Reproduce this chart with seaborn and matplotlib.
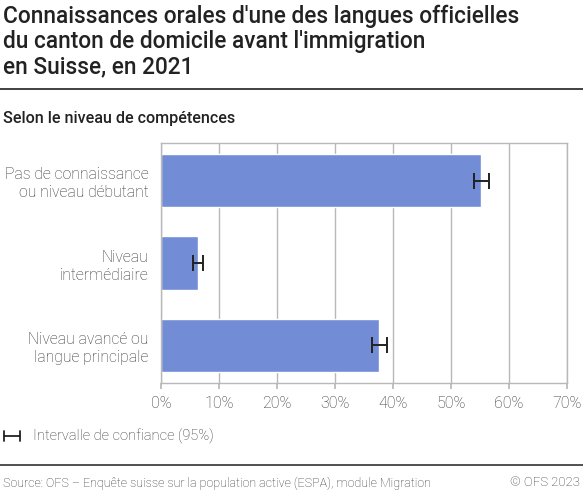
import pandas as pd
import seaborn as sns
import matplotlib.pyplot as plt
from matplotlib.lines import Line2D

categories = [
    "Pas de connaissance\nou niveau débutant",
    "Niveau\nintermédiaire",
    "Niveau avancé ou\nlangue principale",
]
values = [55.2, 6.4, 37.6]
ci_half = [1.3, 0.8, 1.3]
x_ticks = [0, 10, 20, 30, 40, 50, 60, 70]

df = pd.DataFrame({"niveau": categories, "part": values})

sns.set_theme(style="white")
plt.rcParams["font.family"] = ["Roboto", "DejaVu Sans"]

W, H = 583, 493
fig = plt.figure(figsize=(W / 100, H / 100), dpi=100)

# zone du graphique en pixels
left, right, top, bottom = 161, 567, 143, 383
ax = fig.add_axes([left / W, 1 - bottom / H, (right - left) / W, (bottom - top) / H])

sns.barplot(data=df, x="part", y="niveau", orient="h", color="#728cd6",
            saturation=1, width=0.65, errorbar=None, ax=ax, zorder=2)
ax.errorbar(values, range(len(values)), xerr=ci_half, fmt="none",
            ecolor="#222222", elinewidth=1.4, capsize=5.5, capthick=1.4, zorder=3)

ax.set_xlim(0, 70)
ax.set_xticks(x_ticks)
ax.set_xticklabels([f"{t}%" for t in x_ticks])
ax.set_xlabel("")
ax.set_ylabel("")
ax.grid(axis="x", color="#b8b8b8", linewidth=1, zorder=0)
for s in ax.spines.values():
    s.set_color("#b8b8b8")
    s.set_linewidth(1)
ax.tick_params(axis="x", length=4, color="#b8b8b8", labelsize=11.5,
               labelcolor="#333333", pad=5, bottom=True)
ax.tick_params(axis="y", length=0, labelsize=11.3, labelcolor="#333333", pad=9)
for lab in ax.get_yticklabels():
    lab.set_horizontalalignment("right")
    lab.set_linespacing(1.25)
for lab in ax.get_xticklabels() + ax.get_yticklabels():
    lab.set_fontweight("light")

# titre
fig.text(3 / W, 1 - 5 / H,
         "Connaissances orales d'une des langues officielles\n"
         "du canton de domicile avant l'immigration\nen Suisse, en 2021",
         ha="left", va="top", fontsize=16.3, fontweight="medium",
         color="#222222", linespacing=1.1)
fig.add_artist(Line2D([0, 1], [1 - 89 / H] * 2, color="#333333", linewidth=1.3))
fig.text(3 / W, 1 - 119 / H, "Selon le niveau de compétences",
         ha="left", va="center", fontsize=11.6, fontweight="medium", color="#222222")

# légende
leg_y = 1 - 436 / H
fig.add_artist(Line2D([4 / W, 20 / W], [leg_y] * 2, color="#222222", linewidth=1.3))
for xp in (4, 20):
    fig.add_artist(Line2D([xp / W] * 2, [leg_y - 5 / H, leg_y + 5 / H],
                          color="#222222", linewidth=1.3))
fig.text(33 / W, leg_y, "Intervalle de confiance (95%)", ha="left", va="center",
         fontsize=10.5, fontweight="light", color="#333333")

# source
fig.add_artist(Line2D([0, 1], [1 - 465 / H] * 2, color="#333333", linewidth=1.2))
fig.text(3 / W, 1 - 483 / H,
         "Source: OFS – Enquête suisse sur la population active (ESPA), module Migration",
         ha="left", va="center", fontsize=9, fontweight="light", color="#333333")
fig.text(580 / W, 1 - 483 / H, "© OFS 2023", ha="right", va="center",
         fontsize=9.5, fontweight="light", color="#333333")

fig.savefig("out.png", dpi=100)
